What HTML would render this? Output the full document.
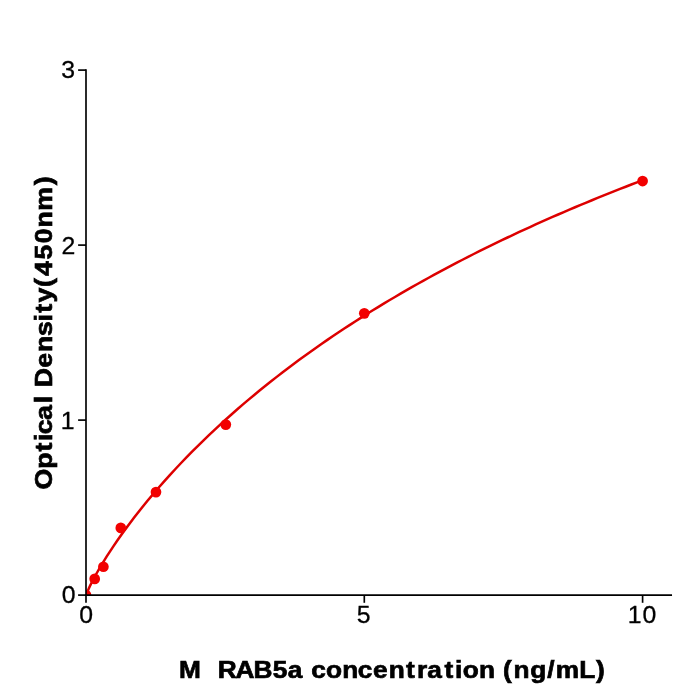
<!DOCTYPE html>
<html><head><meta charset="utf-8"><style>
html,body{margin:0;padding:0;background:#fff;width:700px;height:700px;overflow:hidden}
svg{display:block;will-change:transform}
text{font-family:"Liberation Sans",sans-serif;fill:#000}
</style></head><body>
<svg width="700" height="700" viewBox="0 0 700 700">
<defs><clipPath id="ax"><rect x="86" y="0" width="614" height="595.1"/></clipPath></defs>
<rect width="700" height="700" fill="#fff"/>
<g clip-path="url(#ax)">
<path d="M86.00,595.60 L86.06,595.37 L86.06,595.34 L86.07,595.30 L86.08,595.26 L86.10,595.22 L86.11,595.17 L86.13,595.11 L86.15,595.04 L86.17,594.97 L86.20,594.89 L86.23,594.80 L86.26,594.69 L86.30,594.57 L86.35,594.44 L86.40,594.29 L86.46,594.11 L86.53,593.92 L86.61,593.70 L86.70,593.45 L86.81,593.17 L86.93,592.86 L87.07,592.50 L87.24,592.10 L87.42,591.64 L87.64,591.13 L87.89,590.55 L88.17,589.90 L88.50,589.16 L88.88,588.32 L89.32,587.38 L89.82,586.32 L90.40,585.13 L91.07,583.78 L91.83,582.26 L92.72,580.54 L93.73,578.61 L94.90,576.44 L96.25,574.00 L97.81,571.25 L99.59,568.17 L101.65,564.70 L104.02,560.82 L106.75,556.46 L109.89,551.59 L113.51,546.14 L117.67,540.05 L122.46,533.26 L127.99,525.71 L134.34,517.31 L141.66,508.01 L147.29,501.08 L152.92,494.34 L158.55,487.77 L164.17,481.37 L169.80,475.11 L175.43,468.99 L181.06,463.01 L186.69,457.16 L192.32,451.42 L197.95,445.80 L203.57,440.29 L209.20,434.88 L214.83,429.58 L220.46,424.37 L226.09,419.25 L231.72,414.22 L237.35,409.28 L242.97,404.42 L248.60,399.64 L254.23,394.94 L259.86,390.31 L265.49,385.76 L271.12,381.27 L276.74,376.86 L282.37,372.51 L288.00,368.22 L293.63,364.00 L299.26,359.83 L304.89,355.73 L310.52,351.68 L316.14,347.69 L321.77,343.75 L327.40,339.87 L333.03,336.04 L338.66,332.25 L344.29,328.52 L349.92,324.84 L355.54,321.20 L361.17,317.61 L366.80,314.06 L372.43,310.56 L378.06,307.09 L383.69,303.68 L389.32,300.30 L394.94,296.96 L400.57,293.66 L406.20,290.40 L411.83,287.18 L417.46,283.99 L423.09,280.84 L428.72,277.73 L434.34,274.65 L439.97,271.61 L445.60,268.59 L451.23,265.62 L456.86,262.67 L462.49,259.75 L468.12,256.87 L473.74,254.01 L479.37,251.19 L485.00,248.39 L490.63,245.63 L496.26,242.89 L501.89,240.18 L507.52,237.50 L513.14,234.84 L518.77,232.21 L524.40,229.61 L530.03,227.03 L535.66,224.47 L541.29,221.95 L546.91,219.44 L552.54,216.96 L558.17,214.50 L563.80,212.07 L569.43,209.66 L575.06,207.27 L580.69,204.90 L586.31,202.56 L591.94,200.23 L597.57,197.93 L603.20,195.65 L608.83,193.38 L614.46,191.14 L620.09,188.92 L625.71,186.72 L631.34,184.53 L636.97,182.37 L642.60,180.22" fill="none" stroke="#dd0000" stroke-width="2.5" stroke-linejoin="round" stroke-linecap="butt"/>
<g fill="#f20000">
<circle cx="86.00" cy="595.10" r="5.35"/>
<circle cx="94.70" cy="578.89" r="5.35"/>
<circle cx="103.39" cy="566.75" r="5.35"/>
<circle cx="120.79" cy="527.90" r="5.35"/>
<circle cx="156.00" cy="492.10" r="5.35"/>
<circle cx="225.80" cy="424.60" r="5.35"/>
<circle cx="364.30" cy="313.35" r="5.35"/>
<circle cx="642.60" cy="181.05" r="5.35"/>
</g>
</g>
<g stroke="#000" stroke-width="1.67" stroke-linecap="butt">
<g stroke-linecap="square"><line x1="86" y1="70.1" x2="86" y2="595.1"/>
<line x1="86" y1="595.1" x2="671.2" y2="595.1"/></g>
<line x1="78.1" y1="595.10" x2="86" y2="595.10"/><line x1="78.1" y1="420.10" x2="86" y2="420.10"/><line x1="78.1" y1="245.10" x2="86" y2="245.10"/><line x1="78.1" y1="70.10" x2="86" y2="70.10"/><line x1="86.00" y1="595.1" x2="86.00" y2="602.8"/><line x1="364.30" y1="595.1" x2="364.30" y2="602.8"/><line x1="642.60" y1="595.1" x2="642.60" y2="602.8"/>
</g>
<g font-size="24.8" stroke="#000" stroke-width="0.3">
<text x="61.18" y="78.20">3</text>
<text x="61.40" y="253.80">2</text>
<text x="60.86" y="428.90">1</text>
<text x="61.65" y="603.40">0</text>
<text x="79.15" y="623.10">0</text>
<text x="356.73" y="623.30">5</text>
<text x="627.86 642.40" y="623.30">10</text>
</g>
<text transform="translate(178.46,677.70) scale(1.0719,1)" x="0.62 21.70 29.29 36.63 53.27 69.98 87.98 102.06 117.07 123.92 137.58 152.85 167.35 181.47 196.09 212.35 222.62 232.22 248.25 258.00 265.13 280.40 295.64 302.75 312.64 328.08 344.07 351.90 373.89 389.51" y="0" font-size="24.5" font-weight="bold" stroke="#000" stroke-width="0.7" style="white-space:pre">M  RAB5a concentration (ng/mL)</text>
<text transform="translate(51.90,489.06) rotate(-90) scale(1.0894,1)" x="-0.42 18.54 34.53 44.13 50.37 63.52 78.69 85.76 93.39 111.38 125.75 140.55 153.92 161.93 171.33 185.52 195.55 210.66 225.56 239.99 255.37 278.82" y="0" font-size="24.5" font-weight="bold" stroke="#000" stroke-width="0.7" style="white-space:pre">Optical Density(450nm)</text>
</svg>
</body></html>
